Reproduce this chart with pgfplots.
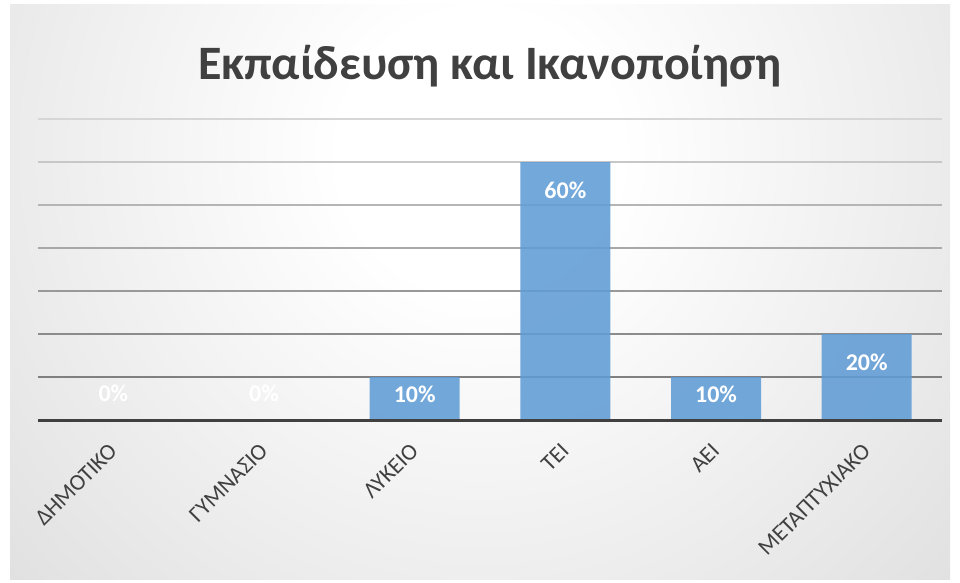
\documentclass[border=0pt]{standalone}
\usepackage{pgfplots}
\pgfplotsset{compat=1.18}
\usepackage{fontspec}
\setmainfont{Carlito}
\definecolor{barblue}{RGB}{96,156,214}
\definecolor{txt}{RGB}{64,64,64}
\pgfdeclareradialshading{bgshade}{\pgfpoint{0bp}{0bp}}{color(0bp)=(white); color(5bp)=(white); color(50bp)=(black!30)}
\begin{document}
\begin{tikzpicture}[x=1pt,y=1pt]
\useasboundingbox (0,0) rectangle (960,582);
\fill[white] (0,0) rectangle (960,582);
\begin{scope}
\clip (10,3) rectangle (950,577);
\shade[shading=bgshade] (-220,-270) rectangle (1180,1130);
\end{scope}
\node[anchor=base, font=\fontsize{48}{48}\selectfont\bfseries, text=txt, inner sep=0pt] at (490,502) {Εκπαίδευση και Ικανοποίηση};
\begin{axis}[
  at={(38pt,162pt)}, anchor=south west,
  scale only axis, width=904pt, height=301pt,
  xmin=-0.5, xmax=5.5, ymin=0, ymax=70,
  ytick=\empty,
  axis line style={draw=none},
  tick style={draw=none},
  xtick={0,...,5},
  xticklabels={ΔΗΜΟΤΙΚΟ,ΓΥΜΝΑΣΙΟ,ΛΥΚΕΙΟ,ΤΕΙ,ΑΕΙ,ΜΕΤΑΠΤΥΧΙΑΚΟ},
  xticklabel style={rotate=45, anchor=north east, font=\fontsize{23}{23}\selectfont, text=txt, xshift=-16pt, yshift=-8pt},
  /pgf/number format/assume math mode=true,
  clip=false,
]
\draw[black!16, line width=2pt] (axis cs:-0.5,70) -- (axis cs:5.5,70);
\draw[black!22, line width=2pt] (axis cs:-0.5,60) -- (axis cs:5.5,60);
\draw[black!29, line width=2pt] (axis cs:-0.5,50) -- (axis cs:5.5,50);
\draw[black!34, line width=2pt] (axis cs:-0.5,40) -- (axis cs:5.5,40);
\draw[black!40, line width=2pt] (axis cs:-0.5,30) -- (axis cs:5.5,30);
\draw[black!45, line width=2pt] (axis cs:-0.5,20) -- (axis cs:5.5,20);
\draw[black!50, line width=2pt] (axis cs:-0.5,10) -- (axis cs:5.5,10);
\addplot[ybar, bar width=90pt, fill=barblue, fill opacity=0.88, text opacity=1, draw=none,
  visualization depends on={rawy \as \ry},
  nodes near coords={\pgfmathprintnumber{\pgfplotspointmeta}\%},
  every node near coord/.append style={font=\fontsize{24}{24}\selectfont\bfseries, text=white, anchor=center,
     yshift={ifthenelse(\ry<5,27,ifthenelse(\ry<15,-17,-28))}}
] coordinates {(0,0) (1,0) (2,10) (3,60) (4,10) (5,20)};
\draw[txt, line width=3pt] (axis cs:-0.5,0) -- (axis cs:5.5,0);
\end{axis}
\end{tikzpicture}
\end{document}
